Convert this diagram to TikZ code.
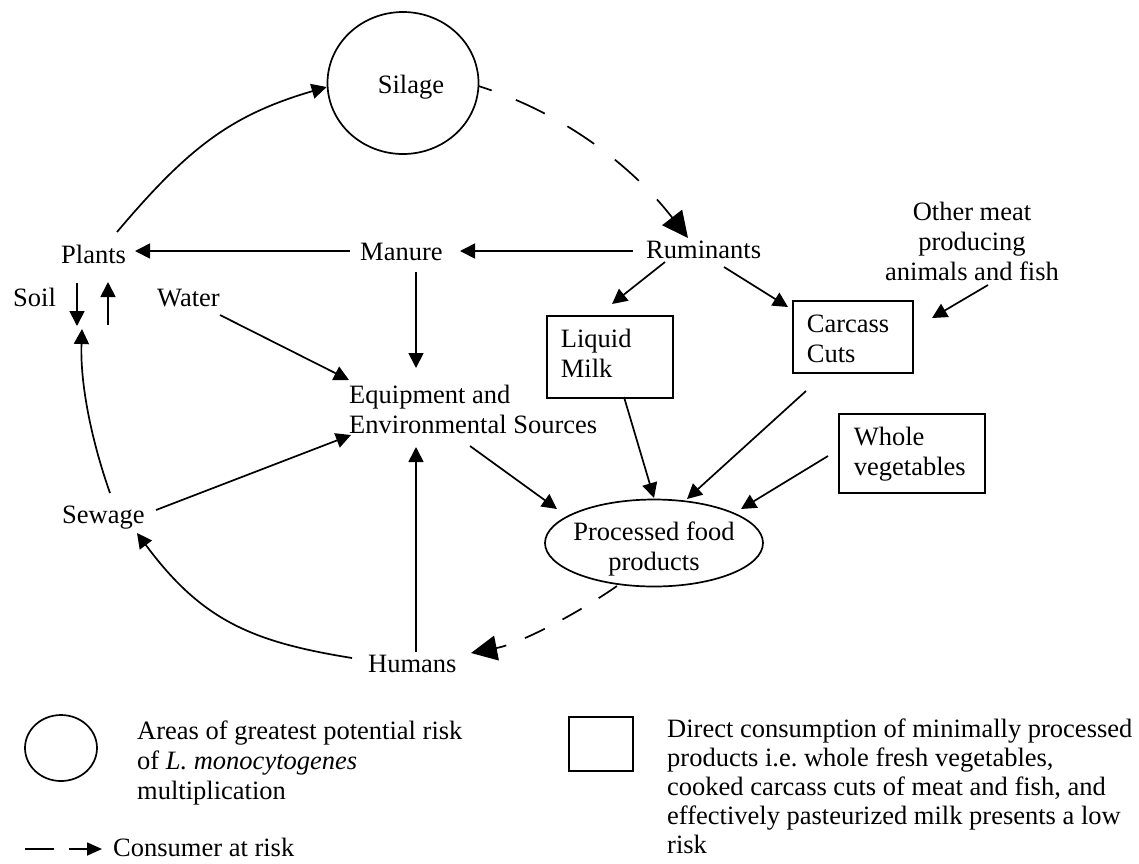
\documentclass[tikz,border=0pt]{standalone}
\usepackage{fontspec}
\setmainfont{Liberation Serif}
\usetikzlibrary{arrows.meta,shapes.geometric}
\newcommand\myfs{\fontsize{26.5}{30}\selectfont}
\begin{document}
\frenchspacing
\begin{tikzpicture}[x=1pt,y=-1pt,
  txt/.style={inner sep=0pt, anchor=base west, font=\myfs},
  arr/.style={line width=1.7pt, -{Triangle[length=15pt,width=15pt]}},
  darr/.style={line width=1.7pt, -{Triangle[length=26pt,width=25pt]}},
  boxn/.style={draw, line width=1.7pt, anchor=north west, inner xsep=14pt, inner ysep=0pt, font=\myfs},
  oval/.style={draw, ellipse, line width=1.7pt, inner sep=0pt, font=\myfs}]
\fill[white] (0,0) rectangle (1139,863);
\useasboundingbox (0,0) rectangle (1139,863);

% nodes
\node[oval, minimum width=151pt, minimum height=142pt, text height=22pt, text depth=2pt] (silage) at (403,83) {\hspace*{16pt}Silage};
\node[txt] (plants) at (61,263) {Plants};
\node[txt] (manure) at (360,260) {Manure};
\node[txt] (rum) at (646,258) {Ruminants};
\node[txt] (soil) at (13,306) {Soil};
\node[txt] (water) at (157,306) {Water};
\node[txt] (equip) at (349,403) {\begin{tabular}[t]{@{}l@{}}Equipment and\\Environmental Sources\end{tabular}};
\node[txt] (sewage) at (62,523) {Sewage};
\node[txt] (humans) at (368,672) {Humans};
\node[txt, anchor=base] (other) at (972,220) {\begin{tabular}[t]{@{}c@{}}Other meat\\producing\\animals and fish\end{tabular}};
\node[boxn, minimum width=126pt, minimum height=82pt, text height=21pt, text depth=39pt] (milk) at (546,315) {\begin{tabular}[t]{@{}p{98pt}@{}}Liquid\\Milk\end{tabular}};
\node[boxn, minimum width=120pt, minimum height=72pt, text height=26pt, text depth=34pt] (carcass) at (792,300) {\begin{tabular}[t]{@{}p{92pt}@{}}Carcass\\Cuts\end{tabular}};
\node[boxn, inner xsep=15pt, minimum width=146pt, minimum height=79pt, text height=22.5pt, text depth=37.5pt] (whole) at (838,413) {\begin{tabular}[t]{@{}p{116pt}@{}}Whole\\vegetables\end{tabular}};
\node[oval, minimum width=218pt, minimum height=87pt, text height=27pt, text depth=33pt] (proc) at (654,543) {\makebox[0pt]{\begin{tabular}[t]{@{}c@{}}Processed food\\products\end{tabular}}};

% connectors
\draw[arr] ([shift={(56,-31)}]plants.base west) .. controls +(71,-84) and +(-96,28) .. ([shift={(0,4)}]silage.west);
\draw[darr, dash pattern=on 32pt off 26pt, dash phase=18pt] ([shift={(-1,3)}]silage.east) .. controls +(86,27) and +(-55,-71) .. ([shift={(42,-20)}]rum.base west);
\draw[arr] ([shift={(-10,-9)}]manure.base west) -- ([shift={(74,-12)}]plants.base west);
\draw[arr] ([shift={(-13,-7)}]rum.base west) -- ([shift={(100,-9)}]manure.base west);
\draw[arr] ([shift={(56,12)}]manure.base west) -- ([shift={(67,-35)}]equip.base west);
\draw[arr] ([shift={(63,9)}]water.base west) -- ([shift={(0,-23)}]equip.base west);
\draw[arr] ([shift={(94,-13)}]sewage.base west) -- ([shift={(2,32)}]equip.base west);
\draw[arr] ([shift={(48,-20)}]humans.base west) -- ([shift={(67,44)}]equip.base west);
\draw[arr] ([shift={(121,43)}]equip.base west) -- ([shift={(-97,-34)}]proc.center);
\draw[arr] ([shift={(19,4)}]rum.base west) -- ([shift={(66,-11)}]milk.north west);
\draw[arr] ([shift={(78,9)}]rum.base west) -- ([shift={(-4,7)}]carcass.north west);
\draw[arr] ([shift={(16,65)}]other.base) -- ([shift={(140,18)}]carcass.north west);
\draw[arr] ([shift={(78,82)}]milk.north west) -- ([shift={(0,-45)}]proc.center);
\draw[arr] ([shift={(14,91)}]carcass.north west) -- ([shift={(33,-44)}]proc.center);
\draw[arr] ([shift={(-10,43)}]whole.north west) -- ([shift={(87,-34)}]proc.center);
\draw[darr, dash pattern=on 22pt off 20pt] ([shift={(-37,43)}]proc.center) .. controls +(-41,28.5) and +(49,-9.5) .. ([shift={(103,-19)}]humans.base west);
\draw[arr] ([shift={(-16,-14)}]humans.base west) .. controls +(-99,-16) and +(65,88) .. ([shift={(75,10)}]sewage.base west);
\draw[arr] ([shift={(48,-30)}]sewage.base west) .. controls +(-18,-51) and +(-2,56) .. ([shift={(21,66)}]plants.base west);
\draw[arr] ([shift={(16,20)}]plants.base west) -- ([shift={(16,63)}]plants.base west);
\draw[arr] ([shift={(47,62)}]plants.base west) -- ([shift={(47,19)}]plants.base west);

% legend
\node[oval, minimum width=72pt, minimum height=66pt] (lgcirc) at (61,748) {};
\node[txt] (lgcirctxt) at (137,739) {\begin{tabular}[t]{@{}l@{}}Areas of greatest potential risk\\of \textit{L. monocytogenes}\\multiplication\end{tabular}};
\node[draw, line width=1.7pt, anchor=north west, minimum width=64pt, minimum height=54pt, inner sep=0pt] (lgbox) at (568,716) {};
\node[txt, font=\fontsize{26.5}{29}\selectfont] (lgboxtxt) at (667,737) {\begin{tabular}[t]{@{}l@{}}Direct consumption of minimally processed\\products i.e. whole fresh vegetables,\\cooked carcass cuts of meat and fish, and\\effectively pasteurized milk presents a low\\risk\end{tabular}};
\coordinate (lga) at (25,849);
\coordinate (lgb) at (102,849);
\draw[line width=1.7pt, dash pattern=on 29pt off 15pt, -{Triangle[length=15pt,width=13pt]}] (lga) -- (lgb);
\node[txt] (lgdtxt) at (113,856) {Consumer at risk};
\end{tikzpicture}
\end{document}
